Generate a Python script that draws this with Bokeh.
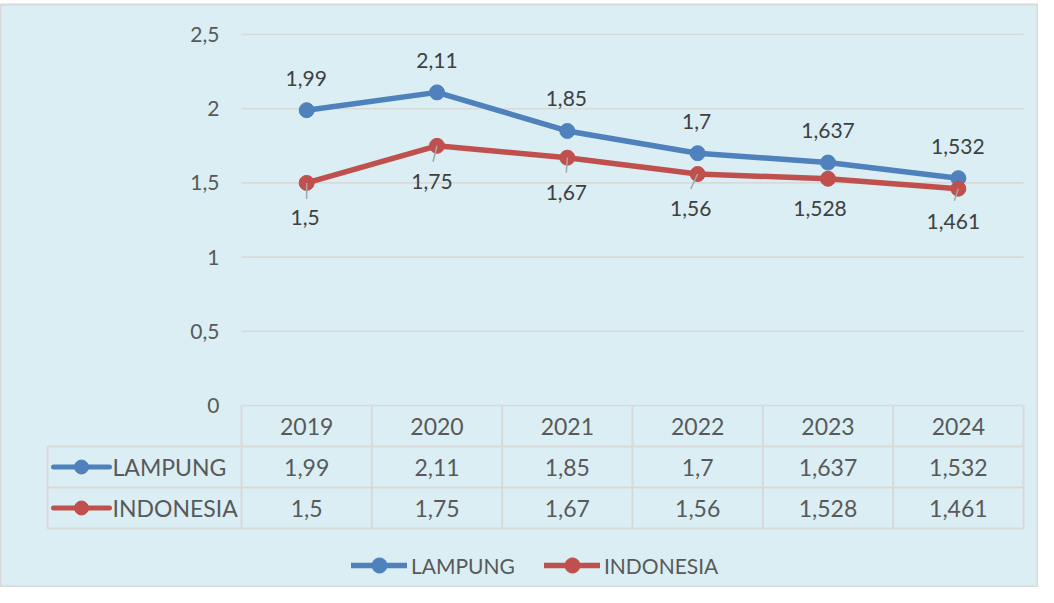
from bokeh.plotting import figure
from bokeh.models import Range1d, ColumnDataSource, Legend, LegendItem
from bokeh.core.properties import value
from bokeh.embed import file_html
from bokeh.resources import INLINE

# ---------------- data ----------------
years = ["2019", "2020", "2021", "2022", "2023", "2024"]
lampung = [1.99, 2.11, 1.85, 1.7, 1.637, 1.532]
indonesia = [1.5, 1.75, 1.67, 1.56, 1.528, 1.461]
y_ticks = [0, 0.5, 1, 1.5, 2, 2.5]
series_names = ["LAMPUNG", "INDONESIA"]

# ---------------- layout / style ----------------
W, H = 1038, 587
TOP = 4
FW, FH = W, H - TOP
PLOT_L, PLOT_R = 241, 1023      # frame px of plot area
Y_TOP_PX, Y0_PX = 30, 401       # frame px of 2.5 and 0
XPX = (PLOT_R - PLOT_L) / len(years)
YPX = (Y0_PX - Y_TOP_PX) / y_ticks[-1]
x_start = -0.5 - PLOT_L / XPX
x_end = x_start + FW / XPX
y_end = y_ticks[-1] + Y_TOP_PX / YPX
y_start = y_end - FH / YPX


def dx(px):
    return px / XPX


def dy(px):
    return px / YPX


BG = "#DAEEF3"
GRID = "#D9D9D9"
BLUE = "#4F81BD"
RED = "#C0504D"
TXT = "#595959"
LBL = "#404040"
FONT = value("Lato")

fmt = lambda v: ("%g" % v).replace(".", ",")

p = figure(width=W, height=H, output_backend="svg", toolbar_location=None,
           x_range=Range1d(x_start, x_end), y_range=Range1d(y_start, y_end),
           x_axis_location=None, y_axis_location=None,
           min_border_left=0, min_border_right=0, min_border_top=TOP,
           min_border_bottom=0)
p.background_fill_color = BG
p.border_fill_color = "white"
p.outline_line_color = GRID
p.outline_line_width = 2
p.grid.visible = False

n = len(years)
xs = list(range(n))

# gridlines + y tick labels
p.segment(x0=[-0.5] * len(y_ticks), x1=[n - 0.5] * len(y_ticks), y0=y_ticks, y1=y_ticks,
          line_color=GRID, line_width=1.6)
p.text(x=[x_start + dx(219)] * len(y_ticks), y=y_ticks, text=[fmt(t) for t in y_ticks],
       text_align="right", text_baseline="middle", text_font=FONT,
       text_font_size="21px", text_color=TXT)

# ---------------- data table ----------------
RH = dy(41)
LEFT_COL = x_start + dx(47)
hx0 = [LEFT_COL, LEFT_COL, LEFT_COL]
hy = [-RH, -2 * RH, -3 * RH]
p.segment(x0=hx0, x1=[n - 0.5] * 3, y0=hy, y1=hy, line_color=GRID, line_width=2)
vx = [LEFT_COL] + [i - 0.5 for i in range(n + 1)]
vy0 = [-RH] + [0] * (n + 1)
p.segment(x0=vx, x1=vx, y0=vy0, y1=[-3 * RH] * len(vx), line_color=GRID, line_width=2)

p.text(x=xs, y=[-0.5 * RH] * n, text=years, text_align="center", text_baseline="middle",
       text_font=FONT, text_font_size="23px", text_color=TXT)
p.text(x=xs, y=[-1.5 * RH] * n, text=[fmt(v) for v in lampung], text_align="center",
       text_baseline="middle", text_font=FONT, text_font_size="23px", text_color=TXT)
p.text(x=xs, y=[-2.5 * RH] * n, text=[fmt(v) for v in indonesia], text_align="center",
       text_baseline="middle", text_font=FONT, text_font_size="23px", text_color=TXT)

# legend keys in table
for row, col in ((1.5, BLUE), (2.5, RED)):
    p.segment(x0=[x_start + dx(53)], x1=[x_start + dx(109)], y0=[-row * RH], y1=[-row * RH],
              line_color=col, line_width=5, line_cap="round")
    p.scatter(x=[x_start + dx(81)], y=[-row * RH], size=14, marker="circle",
              fill_color=col, line_color=col)
p.text(x=[x_start + dx(112)] * 2, y=[-1.5 * RH, -2.5 * RH], text=series_names,
       text_align="left", text_baseline="middle", text_font=FONT, text_font_size="23px",
       text_color=TXT)

# ---------------- series ----------------
l1 = p.line(xs, lampung, line_color=BLUE, line_width=5.5, line_join="round",
            line_cap="round")
s1 = p.scatter(xs, lampung, size=15, marker="circle", fill_color=BLUE, line_color=BLUE)
l2 = p.line(xs, indonesia, line_color=RED, line_width=5.5, line_join="round",
            line_cap="round")
s2 = p.scatter(xs, indonesia, size=15, marker="circle", fill_color=RED, line_color=RED)

# leader lines for Indonesia labels (px offsets of line end)
lead_idx = [0, 1, 2, 3, 5]
lead_end = [(0, 16), (-4, 16), (-1, 15), (-7, 15), (-4, 12)]
p.segment(x0=[xs[i] for i in lead_idx], y0=[indonesia[i] for i in lead_idx],
          x1=[xs[i] + dx(e[0]) for i, e in zip(lead_idx, lead_end)],
          y1=[indonesia[i] - dy(e[1]) for i, e in zip(lead_idx, lead_end)],
          line_color="#A6A6A6", line_width=1.5)

# data labels
lam_off_x = [-0.5, 0, -1, -1, 0, -0.5]
lam_off_y = [-32] * n
ind_off_x = [-1.5, -5, -1, -7, -8, -5]
ind_off_y = [35, 36, 35, 35, 30, 33]
src_l = ColumnDataSource(dict(x=xs, y=lampung, t=[fmt(v) for v in lampung],
                              ox=lam_off_x, oy=lam_off_y))
src_i = ColumnDataSource(dict(x=xs, y=indonesia, t=[fmt(v) for v in indonesia],
                              ox=ind_off_x, oy=ind_off_y))
for src in (src_l, src_i):
    p.text(x="x", y="y", text="t", x_offset="ox", y_offset="oy", source=src,
           text_align="center", text_baseline="middle", text_font=FONT,
           text_font_size="21px", text_color=LBL)

# bottom legend
legend = Legend(items=[LegendItem(label=series_names[0], renderers=[l1, s1]),
                       LegendItem(label=series_names[1], renderers=[l2, s2])],
                orientation="horizontal", location=(351, 3), glyph_width=56,
                glyph_height=38, label_standoff=4, spacing=29, padding=0, margin=0,
                background_fill_alpha=0, border_line_alpha=0,
                label_text_font="Lato", label_text_font_size="21px",
                label_text_color=TXT)
p.add_layout(legend)

open("out.html", "w").write(file_html(p, INLINE))
